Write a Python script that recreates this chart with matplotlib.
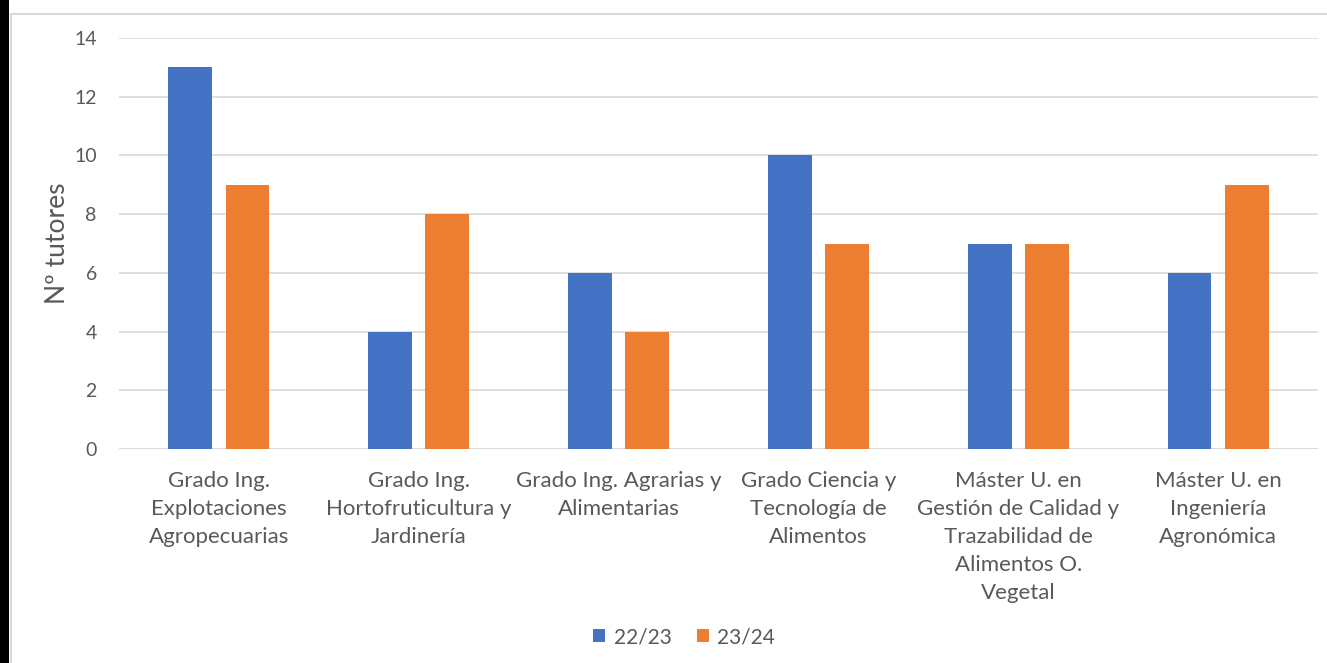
import matplotlib
matplotlib.use("Agg")
import matplotlib.pyplot as plt
import numpy as np
from matplotlib.patches import Rectangle
from matplotlib.lines import Line2D

# data
categories = [
    "Grado Ing.\nExplotaciones\nAgropecuarias",
    "Grado Ing.\nHortofruticultura y\nJardinería",
    "Grado Ing. Agrarias y\nAlimentarias",
    "Grado Ciencia y\nTecnología de\nAlimentos",
    "Máster U. en\nGestión de Calidad y\nTrazabilidad de\nAlimentos O.\nVegetal",
    "Máster U. en\nIngeniería\nAgronómica",
]
series_names = ["22/23", "23/24"]
vals_2223 = [13, 4, 6, 10, 7, 6]
vals_2324 = [9, 8, 4, 7, 7, 9]
yticks = [0, 2, 4, 6, 8, 10, 12, 14]

blue = "#4472C4"
orange = "#ED7D31"
txt = "#595959"
grid = "#D9D9D9"

plt.rcParams['font.family'] = ['Lato', 'DejaVu Sans']

W, H = 1327, 663
fig = plt.figure(figsize=(W / 100, H / 100), dpi=100)

# black strip on the left and light frame, like the screenshot
fig.patches.append(Rectangle((0, 0), 9 / W, 1, transform=fig.transFigure,
                             facecolor="black", edgecolor="none", zorder=0))
fig.lines.append(Line2D([10.5 / W, 10.5 / W], [0, 1 - 14 / H], transform=fig.transFigure,
                        color=grid, lw=1.5))
fig.lines.append(Line2D([10.5 / W, 1], [1 - 14 / H, 1 - 14 / H], transform=fig.transFigure,
                        color=grid, lw=1.5))

ax = fig.add_axes([119 / W, 1 - 449 / H, (1318 - 119) / W, (449 - 38) / H])

x = np.arange(len(categories))
w = 0.22
off = 0.143
ax.bar(x - off, vals_2223, width=w, color=blue, label=series_names[0], zorder=3)
ax.bar(x + off, vals_2324, width=w, color=orange, label=series_names[1], zorder=3)

ax.set_xlim(-0.5, len(categories) - 0.5)
ax.set_ylim(0, 14)
ax.set_yticks(yticks)
ax.yaxis.grid(True, color=grid, lw=1.2, zorder=0)
ax.set_axisbelow(True)
for s in ["top", "right", "left", "bottom"]:
    ax.spines[s].set_visible(False)
ax.axhline(0, color=grid, lw=1.5, zorder=2)

ax.set_xticks(x)
ax.set_xticklabels(categories, fontsize=16, color=txt, linespacing=1.5)
ax.tick_params(axis="x", length=0, pad=16)
ax.tick_params(axis="y", length=0, pad=16, labelsize=14, labelcolor=txt)
for lab in ax.get_xticklabels():
    lab.set_verticalalignment("top")

ax.set_ylabel("Nº tutores", fontsize=19, color=txt, labelpad=3)

fig.legend(loc="center", bbox_to_anchor=(684 / W, 1 - 637 / H), ncol=2, frameon=False,
           fontsize=15, labelcolor=txt, handlelength=0.6, handleheight=0.6,
           handletextpad=0.4, columnspacing=1.2)

fig.savefig("out.png", dpi=100)
